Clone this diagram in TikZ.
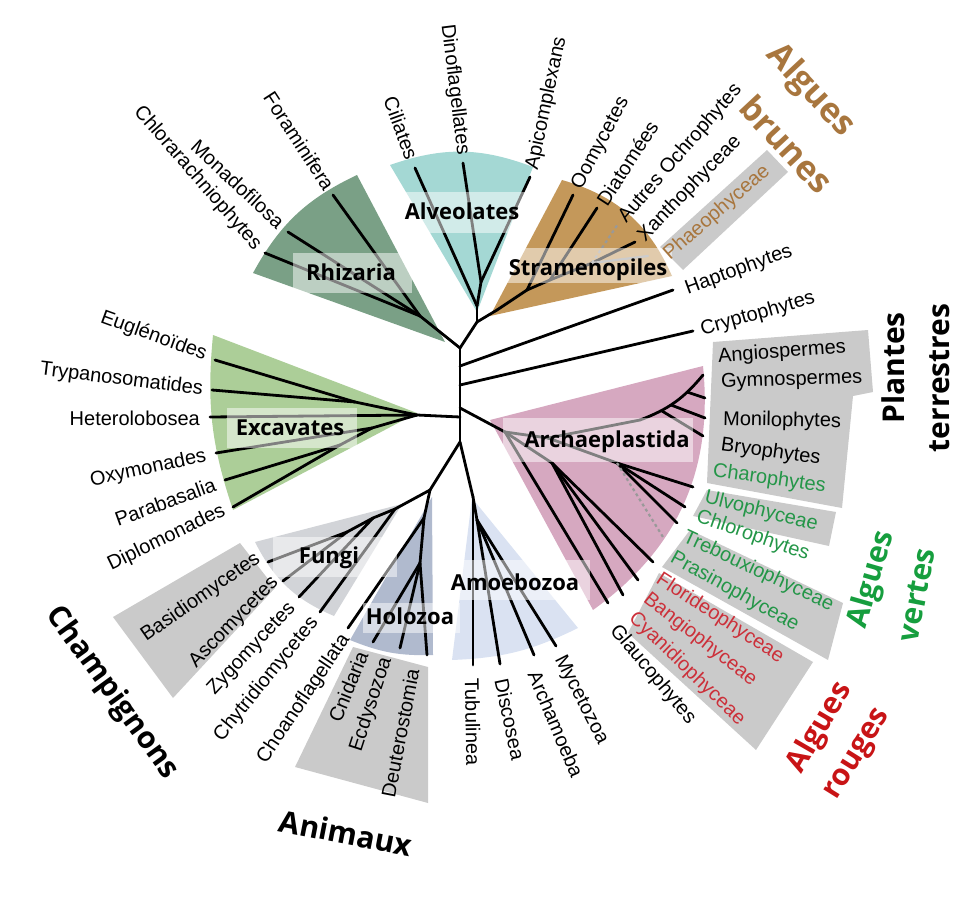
\documentclass[tikz,border=0pt]{standalone}
\usepackage{fontspec}
\setmainfont{Liberation Sans}
\newfontfamily\cladefont{Open Sans}
\usepackage{xcolor}

\definecolor{rhizcol}{RGB}{122,160,134}
\definecolor{alvcol}{RGB}{164,216,212}
\definecolor{strcol}{RGB}{196,152,90}
\definecolor{exccol}{RGB}{172,206,152}
\definecolor{arccol}{RGB}{214,168,192}
\definecolor{funcol}{RGB}{210,212,216}
\definecolor{holcol}{RGB}{176,186,206}
\definecolor{amocol}{RGB}{218,226,242}
\definecolor{boxcol}{RGB}{202,202,202}
\definecolor{brun}{RGB}{168,118,62}
\definecolor{vert}{RGB}{36,150,72}
\definecolor{vertfonce}{RGB}{22,158,62}
\definecolor{rouge}{RGB}{204,48,58}
\definecolor{rougefonce}{RGB}{200,20,22}

\begin{document}
\begin{tikzpicture}[x=1pt, y=-1pt,
    branch/.style={line width=2.8pt, line cap=round},
    dimbranch/.style={line width=2.2pt, black!40, line cap=round},
    dashbranch/.style={line width=2.2pt, black!40, dashed},
    leaf/.style={font=\fontsize{20}{22}\selectfont, inner sep=2pt},
    clade/.style={font=\cladefont\bfseries\fontsize{22}{24}\selectfont, inner sep=0pt},
    group/.style={font=\cladefont\bfseries\fontsize{30}{32}\selectfont, inner sep=0pt},
    band/.style={fill=white, opacity=0.5},
    greybox/.style={fill=boxcol}]
\useasboundingbox (0,0) rectangle (960,909);

% Coloured wedges of the clades
\fill[rhizcol] (445,342) -- (253,273) to[bend left=18] (357,175) -- cycle;
\fill[alvcol] (477,312) -- (390,165) to[bend left=20] (533,167) -- cycle;
\fill[strcol] (490,316) -- (562,180) to[bend left=25] (672,276) -- cycle;
\fill[exccol] (417,413) -- (233,510) to[bend left=12] (213,335) -- cycle;
\fill[arccol] (490,420) -- (703,366) to[bend left=30] (593,610) -- cycle;
\fill[funcol] (402,504) -- (255,542) to[bend right=20] (334,616) -- cycle;
\fill[holcol] (432,497) -- (350,640) to[bend right=12] (433,655) -- cycle;
\fill[amocol] (472,498) -- (452,660) to[bend right=12] (578,628) -- cycle;

% Grey boxes behind the leaf names
\fill[greybox] (660,247) -- (767,150) -- (788,172) -- (683,270) -- cycle;
\fill[greybox] (713,342) -- (868,330) -- (873,392) -- (853,396) -- (842,508) -- (707,483) -- cycle;
\fill[greybox] (707,490) -- (836,512) -- (829,546) -- (693,516) -- cycle;
\fill[greybox] (690,530) -- (843,603) -- (828,660) -- (662,567) -- cycle;
\fill[greybox] (659,573) -- (813,662) -- (756,750) -- (628,633) -- cycle;
\fill[greybox] (113,617) -- (240,543) -- (275,588) -- (173,698) -- cycle;
\fill[greybox] (353,647) -- (428,667) -- (428,803) -- (295,767) -- cycle;

% Tree: inner nodes
\coordinate (A) at (460,348);
\coordinate (B) at (477,322);
\coordinate (D) at (460,442);
\coordinate (bH) at (460,366);
\coordinate (bC) at (460,385);
\coordinate (bA) at (460,408);
\coordinate (bE) at (460,417);
\coordinate (alvR) at (477,306);
\coordinate (alvJ) at (481,282);
\coordinate (strR) at (497,310);
\coordinate (strJ1) at (527,290);
\coordinate (strJ2) at (550,280);
\coordinate (strJ3) at (592,263);
\coordinate (rhzR) at (440,332);
\coordinate (rhzJ) at (420,316);
\coordinate (excR) at (417,415);
\coordinate (excJ1) at (355,402);
\coordinate (excJ2) at (372,428);
\coordinate (excJ3) at (340,445);
\coordinate (arcR) at (505,432);
\coordinate (arcV) at (548,438);
\coordinate (lpB) at (640,420);
\coordinate (gymJ) at (687,392);
\coordinate (monJ) at (671,405);
\coordinate (bryJ) at (662,411);
\coordinate (greJ) at (617,463);
\coordinate (redJ) at (552,463);
\coordinate (opi) at (430,490);
\coordinate (funR) at (395,509);
\coordinate (funJ1) at (373,518);
\coordinate (funJ2) at (347,532);
\coordinate (holR) at (424,518);
\coordinate (holJ) at (420,563);
\coordinate (amoR) at (473,497);
\coordinate (amoJ) at (477,520);

% Tree: tips
\coordinate (cil) at (415,168);
\coordinate (dino) at (463,163);
\coordinate (api) at (530,177);
\coordinate (oomy) at (573,195);
\coordinate (diat) at (597,208);
\coordinate (autr) at (618,224);
\coordinate (xant) at (635,242);
\coordinate (phae) at (648,256);
\coordinate (fora) at (333,195);
\coordinate (mona) at (288,232);
\coordinate (chlo) at (265,253);
\coordinate (hapt) at (673,290);
\coordinate (cryp) at (693,331);
\coordinate (angi) at (703,375);
\coordinate (gymn) at (705,398);
\coordinate (moni) at (705,418);
\coordinate (bryo) at (703,436);
\coordinate (charo) at (693,487);
\coordinate (ulvo) at (685,507);
\coordinate (chlr) at (677,523);
\coordinate (treb) at (663,537);
\coordinate (flor) at (653,562);
\coordinate (bang) at (638,580);
\coordinate (cyan) at (623,595);
\coordinate (glau) at (608,603);
\coordinate (eugl) at (215,360);
\coordinate (tryp) at (212,390);
\coordinate (hete) at (210,417);
\coordinate (oxym) at (216,453);
\coordinate (para) at (225,480);
\coordinate (dipl) at (233,507);
\coordinate (basi) at (268,562);
\coordinate (asco) at (283,581);
\coordinate (zygo) at (299,597);
\coordinate (chyt) at (320,612);
\coordinate (choa) at (348,628);
\coordinate (cnid) at (373,642);
\coordinate (ecdy) at (400,648);
\coordinate (deut) at (427,655);
\coordinate (tubu) at (473,665);
\coordinate (disc) at (500,664);
\coordinate (arch) at (534,655);
\coordinate (myce) at (556,646);

% Branches
\draw[branch] (A) -- (D);
\foreach \a/\b in {A/B, B/alvR, alvR/cil, alvR/alvJ, alvJ/dino, alvJ/api,
    B/strR, strR/strJ1, strJ1/oomy, strJ1/strJ2, strJ2/diat, strJ2/strJ3, strJ3/xant,
    A/rhzR, rhzR/rhzJ, rhzJ/fora, rhzJ/mona, rhzJ/chlo,
    bH/hapt, bC/cryp,
    bA/arcR, arcR/arcV, arcV/lpB, gymJ/gymn, monJ/moni, bryJ/bryo,
    arcV/greJ, greJ/charo, greJ/ulvo, greJ/chlr,
    arcR/redJ, redJ/flor, redJ/bang, redJ/cyan, arcR/glau,
    bE/excR, excR/excJ1, excJ1/eugl, excJ1/tryp, excR/hete,
    excR/excJ2, excJ2/oxym, excJ2/excJ3, excJ3/para, excJ3/dipl,
    D/opi, opi/funR, funR/chyt, funR/funJ1, funJ1/zygo, funJ1/funJ2, funJ2/basi, funJ2/asco,
    opi/holR, holR/choa, holR/holJ, holJ/cnid, holJ/ecdy, holJ/deut,
    D/amoR, amoR/tubu, amoR/amoJ, amoJ/disc, amoJ/arch, amoJ/myce}
    \draw[branch] (\a) -- (\b);
\draw[branch] (lpB) to[bend right=15] (angi);
\draw[dimbranch] (strJ3) -- (phae);
\draw[dashbranch] (strJ3) -- (autr);
\draw[dashbranch] (greJ) -- (treb);

% Light bands under the clade names
\fill[band] (293,253) rectangle (412,293);
\fill[band] (393,192) rectangle (533,233);
\fill[band] (503,248) rectangle (672,283);
\fill[band] (227,408) rectangle (357,448);
\fill[band] (503,418) rectangle (693,462);
\fill[band] (273,537) rectangle (397,577);
\fill[band] (363,603) rectangle (460,633);
\fill[band] (447,560) rectangle (590,600);

% Clade names
\node[clade] (Nrhiz) at (351,272) {Rhizaria};
\node[clade] (Nalve) at (462,211) {Alveolates};
\node[clade] (Nstra) at (588,270) {Stramenopiles};
\node[clade] (Nexca) at (290,428) {Excavates};
\node[clade] (Narch) at (607,442) {Archaeplastida};
\node[clade] (Nfung) at (329,558) {Fungi};
\node[clade] (Nholo) at (410,616) {Holozoa};
\node[clade] (Namoe) at (515,582) {Amoebozoa};

% Leaf names, left side (end at the tip)
\foreach \n/\x/\y/\a/\t in {chlo/259/249/-49/Chlorarachniophytes, mona/283/226/-43/Monadofilosa,
    fora/331/190/-57/Foraminifera, cil/413/161/-70/Ciliates, dino/463/157/-83/Dinoflagellates,
    eugl/208/356/-20/Euglénoïdes, tryp/205/390/-7/Trypanosomatides, hete/202/418/0/Heterolobosea,
    oxym/208/456/12/Oxymonades, para/217/483/20/Parabasalia, dipl/226/509/26/Diplomonades,
    basi/260/556/35/Basidiomycetes, asco/277/578/46/Ascomycetes, zygo/294/604/47/Zygomycetes,
    chyt/316/618/51/Chytridiomycetes, choa/347/635/56/Choanoflagellata, cnid/363/650/68/Cnidaria,
    ecdy/387/656/72/Ecdysozoa, deut/413/667/79/Deuterostomia}
    \node[leaf, anchor=east, rotate=\a] (L\n) at (\x,\y) {\t};

% Leaf names, right side (start at the tip)
\foreach \n/\x/\y/\a/\t in {api/532/172/78/Apicomplexans, oomy/576/190/62/Oomycetes,
    diat/600/205/57/Diatomées, autr/621/222/49/Autres Ochrophytes, xant/640/240/46/Xanthophyceae,
    hapt/684/290/20/Haptophytes, cryp/699/331/16/Cryptophytes, angi/716/357/4/Angiospermes,
    gymn/719/383/2/Gymnospermes, moni/721/420/-1/Monilophytes, bryo/719/445/-8/Bryophytes,
    glau/612/626/-50/Glaucophytes, myce/558/655/-63/Mycetozoa, arch/533/670/-67/Archamoeba,
    disc/501/677/-78/Discosea, tubu/472/676/-89/Tubulinea}
    \node[leaf, anchor=west, rotate=\a] (L\n) at (\x,\y) {\t};
\foreach \n/\x/\y/\a/\t in {charo/711/471/-8/Charophytes, ulvo/703/497/-14/Ulvophyceae,
    chlr/695/516/-19/Chlorophytes, treb/682/536/-25/Trebouxiophyceae, pras/670/556/-29/Prasinophyceae}
    \node[leaf, anchor=west, rotate=\a, text=vert] (L\n) at (\x,\y) {\t};
\foreach \n/\x/\y/\a/\t in {flor/656/577/-33/Florideophyceae, bang/644/596/-38/Bangiophyceae,
    cyan/630/614/-44/Cyanidiophyceae}
    \node[leaf, anchor=west, rotate=\a, text=rouge] (L\n) at (\x,\y) {\t};
\node[leaf, anchor=west, rotate=41, text=brun] (Lphae) at (665,258) {Phaeophyceae};

% Group names
\node[group, rotate=-47, text=brun, font=\cladefont\bfseries\fontsize{34}{36}\selectfont] (Galg1) at (810,91) {Algues};
\node[group, rotate=-47, text=brun, font=\cladefont\bfseries\fontsize{34}{36}\selectfont] (Gbru) at (787,144) {brunes};
\node[group, rotate=90] (Gpla) at (893,368) {Plantes};
\node[group, rotate=90] (Gter) at (940,378) {terrestres};
\node[group, rotate=74, text=vertfonce] (Galg2) at (872,580) {Algues};
\node[group, rotate=79, text=vertfonce] (Gver) at (917,595) {vertes};
\node[group, rotate=60, text=rougefonce] (Galg3) at (820,728) {Algues};
\node[group, rotate=58, text=rougefonce] (Grou) at (859,755) {rouges};
\node[group, rotate=-54] (Gcha) at (112,693) {Champignons};
\node[group, rotate=-11] (Gani) at (346,833) {Animaux};
\end{tikzpicture}
\end{document}
